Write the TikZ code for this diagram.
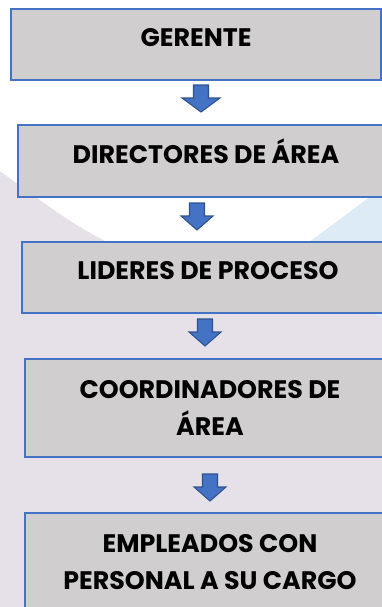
\documentclass[tikz,border=0pt]{standalone}
\usepackage{fontspec}
\setmainfont{Poppins}
\definecolor{boxgray}{HTML}{D0CECE}
\definecolor{boxblue}{HTML}{4472C4}
\definecolor{arrowedge}{HTML}{2F528F}
\definecolor{lavender}{HTML}{E6E1E8}
\definecolor{paleblue}{HTML}{DDEBF6}

\tikzset{
  pics/blockarrow/.style={code={
    \draw [draw=arrowedge, fill=boxblue, line width=0.8pt, line join=miter]
      (-7.5,0) -- (7.5,0) -- (7.5,13) -- (#1,13) -- (0,27) -- (-#1,13) -- (-7.5,13) -- cycle;
  }},
  pics/blockarrow/.default=16
}

\begin{document}
\begin{tikzpicture}[x=0.75pt, y=-0.75pt,
  rank/.style={draw=boxblue, line width=1.2pt, fill=boxgray, inner sep=0pt,
    font=\fontsize{19}{27.75}\selectfont\bfseries, align=center},
  oneline/.style={text height=13.5pt, text depth=10pt}]

\useasboundingbox (0,0) rectangle (382,607);
\clip (0,0) rectangle (382,607);

% fondo
\fill [lavender] (0,0) rectangle (382,607);
\fill [white] (0,0) -- (382,0) -- (382,188) -- (296,252) -- (125,252)
  .. controls (70,222) .. (0,171) -- cycle;
\fill [paleblue] (382,188) -- (296,252) -- (340,300) -- (382,318) -- cycle;

\node [rank, oneline, minimum width=277.5pt, minimum height=53.25pt] (ger) at (196,44.5) {GERENTE};
\node [rank, oneline, minimum width=282pt, minimum height=54pt] (dir) at (206,161) {DIRECTORES DE ÁREA};
\node [rank, oneline, minimum width=279pt, minimum height=53.25pt] (lid) at (208,277.5) {LIDERES DE PROCESO};
\node [rank, minimum width=277.5pt, minimum height=73.5pt] (coo) at (210,408) {COORDINADORES DE\\ÁREA};
\node [rank, minimum width=277.5pt, minimum height=74.25pt] (emp) at (210,562.5) {EMPLEADOS CON\\PERSONAL A SU CARGO};

\pic (a1) at (201,85) {blockarrow=19};
\pic (a2) at (197,203) {blockarrow};
\pic (a3) at (205,319) {blockarrow};
\pic (a4) at (210,474) {blockarrow};
\end{tikzpicture}
\end{document}
